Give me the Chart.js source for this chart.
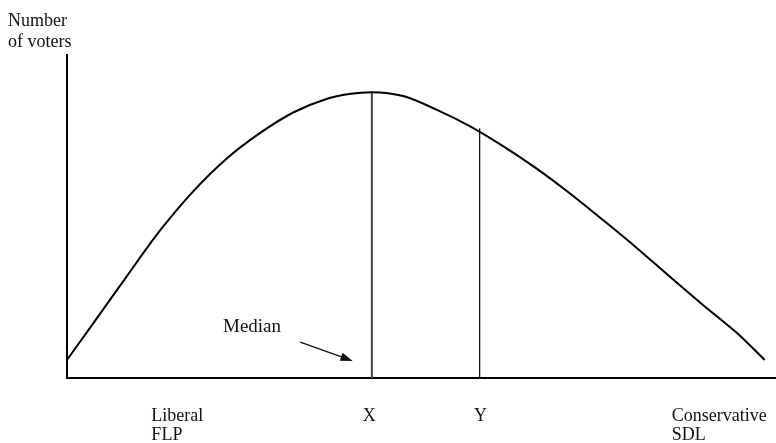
<!DOCTYPE html>
<html>
<head>
<meta charset="utf-8">
<script src="https://cdn.jsdelivr.net/npm/chart.js@4"></script>
<style>
  body { margin: 0; background: #fff; }
</style>
</head>
<body>
<canvas id="voterChart" width="776" height="443"></canvas>
<script>
// distribution of voters along the left-right scale (0 = far left, 100 = far right)
const curveX = [0, 3.7, 8.4, 13.1, 17.8, 22.5, 27.2, 31.9, 36.6, 39.8, 43.0, 47.4, 52.1, 56.8, 61.5, 66.2, 70.9, 75.6, 80.4, 85.0, 89.7, 94.5, 98.4];
const curveY = [5.6, 16.9, 31.4, 45.6, 57.8, 67.9, 75.8, 82.2, 86.4, 87.9, 88.5, 87.3, 83.1, 78.0, 71.8, 64.9, 57.2, 48.9, 40.2, 31.4, 22.6, 13.9, 5.6];

// vertical markers: X (median) and Y
const markerX = [43.0, 58.2];
const markerTop = [88.5, 77.3];

// tick labels under the axis
const tickPos = [11.9, 41.7, 57.4, 85.3];
const tickLabels = [["Liberal", "FLP"], ["X"], ["Y"], ["Conservative", "SDL"]];

// arrow pointing at the median line
const arrowFrom = [32.9, 11.1];
const arrowTo = [40.3, 5.3];

const serif = "'Liberation Serif', 'DejaVu Serif', serif";

const curve = curveX.map((x, i) => ({ x: x, y: curveY[i] }));

const labelsPlugin = {
  id: "labelsPlugin",
  afterDraw(chart) {
    const ctx = chart.ctx;
    const xs = chart.scales.x;
    const ys = chart.scales.y;
    ctx.save();
    ctx.fillStyle = "#111";
    ctx.font = "18px " + serif;
    ctx.textAlign = "left";
    ctx.textBaseline = "alphabetic";
    ctx.fillText("Number", 8, 26);
    ctx.fillText("of voters", 8, 47);
    ctx.font = "19px " + serif;
    ctx.fillText("Median", 223, 332);

    // arrow
    const x1 = xs.getPixelForValue(arrowFrom[0]);
    const y1 = ys.getPixelForValue(arrowFrom[1]);
    const x2 = xs.getPixelForValue(arrowTo[0]);
    const y2 = ys.getPixelForValue(arrowTo[1]);
    const ang = Math.atan2(y2 - y1, x2 - x1);
    const head = 13;
    ctx.strokeStyle = "#111";
    ctx.lineWidth = 1.5;
    ctx.beginPath();
    ctx.moveTo(x1, y1);
    ctx.lineTo(x2 - head * 0.8 * Math.cos(ang), y2 - head * 0.8 * Math.sin(ang));
    ctx.stroke();
    ctx.beginPath();
    ctx.moveTo(x2, y2);
    ctx.lineTo(x2 - head * Math.cos(ang - 0.33), y2 - head * Math.sin(ang - 0.33));
    ctx.lineTo(x2 - head * Math.cos(ang + 0.33), y2 - head * Math.sin(ang + 0.33));
    ctx.closePath();
    ctx.fill();
    ctx.restore();
  }
};

new Chart(document.getElementById("voterChart"), {
  type: "scatter",
  data: {
    datasets: [
      {
        data: curve,
        showLine: true,
        borderColor: "#000",
        borderWidth: 2,
        pointRadius: 0,
        cubicInterpolationMode: "monotone",
      },
      {
        data: [{ x: markerX[0], y: 0 }, { x: markerX[0], y: markerTop[0] }],
        showLine: true,
        borderColor: "#444",
        borderWidth: 2,
        pointRadius: 0,
      },
      {
        data: [{ x: markerX[1], y: 0 }, { x: markerX[1], y: markerTop[1] }],
        showLine: true,
        borderColor: "#111",
        borderWidth: 1.3,
        pointRadius: 0,
      },
    ],
  },
  options: {
    responsive: false,
    animation: false,
    layout: { padding: { left: 67, top: 55, right: 0, bottom: 0 } },
    plugins: {
      legend: { display: false },
      tooltip: { enabled: false },
    },
    scales: {
      x: {
        type: "linear",
        min: 0,
        max: 100,
        grid: { display: false },
        border: { display: true, color: "#000", width: 2 },
        afterBuildTicks: axis => {
          axis.ticks = tickPos.map(v => ({ value: v }));
        },
        afterFit: axis => {
          axis.paddingLeft = 0;
          axis.paddingRight = 0;
          axis.height = 65;
        },
        ticks: {
          autoSkip: false,
          maxRotation: 0,
          align: "start",
          padding: 20,
          color: "#111",
          font: { family: serif, size: 18, lineHeight: 1.1 },
          callback: (value, index) => tickLabels[index],
        },
      },
      y: {
        min: 0,
        max: 100,
        grid: { display: false },
        border: { display: true, color: "#000", width: 2 },
        ticks: { display: false },
        afterFit: axis => {
          axis.width = 0;
        },
      },
    },
  },
  plugins: [labelsPlugin],
});
</script>
</body>
</html>
